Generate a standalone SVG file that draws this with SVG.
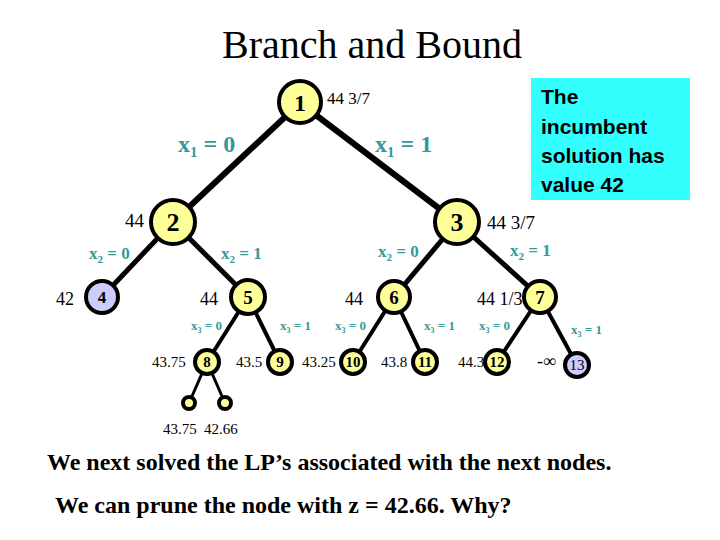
<svg xmlns="http://www.w3.org/2000/svg" width="720" height="540" viewBox="0 0 720 540">
<style>
.t{font-family:"Liberation Serif",serif;font-weight:bold;fill:#000}
.lb{font-family:"Liberation Serif",serif;font-weight:bold;fill:#339999}
.y{fill:#ffff99;stroke:#000;stroke-width:4}
.b{fill:#ccccff;stroke:#000;stroke-width:4}
.e{stroke:#000;fill:none}
</style>
<rect width="720" height="540" fill="#fff"/>
<text x="372" y="58" text-anchor="middle" font-family="Liberation Serif,serif" font-size="40">Branch and Bound</text>
<g id="connectors">
<line class="e" stroke-width="6" x1="300" y1="103" x2="173" y2="222"/>
<line class="e" stroke-width="6" x1="300" y1="103" x2="457" y2="222"/>
<line class="e" stroke-width="5" x1="173" y1="222" x2="102" y2="297"/>
<line class="e" stroke-width="5" x1="173" y1="222" x2="248" y2="297"/>
<line class="e" stroke-width="5" x1="457" y1="222" x2="394" y2="297"/>
<line class="e" stroke-width="5" x1="457" y1="222" x2="540" y2="297"/>
<line class="e" stroke-width="4" x1="248" y1="297" x2="207" y2="362"/>
<line class="e" stroke-width="4" x1="248" y1="297" x2="280" y2="362"/>
<line class="e" stroke-width="4" x1="394" y1="297" x2="353" y2="362"/>
<line class="e" stroke-width="4" x1="394" y1="297" x2="425" y2="362"/>
<line class="e" stroke-width="4" x1="540" y1="297" x2="497" y2="362"/>
<line class="e" stroke-width="4" x1="540" y1="297" x2="577" y2="365"/>
<line class="e" stroke-width="3" x1="207" y1="362" x2="189" y2="403"/>
<line class="e" stroke-width="3" x1="207" y1="362" x2="225" y2="403"/>
</g>
<g font-size="24" class="lb">
<text x="178" y="152" class="lb">x<tspan font-size="15" dy="5">1</tspan><tspan dy="-5"> = 0</tspan></text>
<text x="375" y="152" class="lb">x<tspan font-size="15" dy="5">1</tspan><tspan dy="-5"> = 1</tspan></text>
</g>
<g font-size="17" class="lb">
<text x="89" y="259" class="lb">x<tspan font-size="11" dy="4">2</tspan><tspan dy="-4"> = 0</tspan></text>
<text x="221" y="259" class="lb">x<tspan font-size="11" dy="4">2</tspan><tspan dy="-4"> = 1</tspan></text>
<text x="378" y="257" class="lb">x<tspan font-size="11" dy="4">2</tspan><tspan dy="-4"> = 0</tspan></text>
<text x="510" y="256" class="lb">x<tspan font-size="11" dy="4">2</tspan><tspan dy="-4"> = 1</tspan></text>
</g>
<g font-size="13" class="lb">
<text x="191" y="330" class="lb">x<tspan font-size="8" dy="3">3</tspan><tspan dy="-3"> = 0</tspan></text>
<text x="280" y="330" class="lb">x<tspan font-size="8" dy="3">3</tspan><tspan dy="-3"> = 1</tspan></text>
<text x="335" y="330" class="lb">x<tspan font-size="8" dy="3">3</tspan><tspan dy="-3"> = 0</tspan></text>
<text x="424" y="330" class="lb">x<tspan font-size="8" dy="3">3</tspan><tspan dy="-3"> = 1</tspan></text>
<text x="479" y="330" class="lb">x<tspan font-size="8" dy="3">3</tspan><tspan dy="-3"> = 0</tspan></text>
<text x="571" y="334" class="lb">x<tspan font-size="8" dy="3">3</tspan><tspan dy="-3"> = 1</tspan></text>
</g>
<g id="n1"><circle class="y" cx="300" cy="102" r="21"/><text class="t" x="300" y="111" font-size="24" text-anchor="middle">1</text></g>
<g id="n2"><circle class="y" cx="173" cy="222" r="22"/><text class="t" x="173" y="231" font-size="26" text-anchor="middle">2</text></g>
<g id="n3"><circle class="y" cx="457" cy="222" r="22"/><text class="t" x="457" y="231" font-size="26" text-anchor="middle">3</text></g>
<g id="n4"><circle class="b" cx="102" cy="297" r="16"/><text class="t" x="102" y="303" font-size="17" text-anchor="middle">4</text></g>
<g id="n5"><circle class="y" cx="248" cy="297" r="17"/><text class="t" x="248" y="304" font-size="19" text-anchor="middle">5</text></g>
<g id="n6"><circle class="y" cx="394" cy="297" r="16"/><text class="t" x="394" y="304" font-size="19" text-anchor="middle">6</text></g>
<g id="n7"><circle class="y" cx="540" cy="297" r="16"/><text class="t" x="540" y="304" font-size="19" text-anchor="middle">7</text></g>
<g id="n8"><circle class="y" cx="207" cy="362" r="12" stroke-width="3"/><text class="t" x="207" y="367" font-size="15" text-anchor="middle">8</text></g>
<g id="n9"><circle class="y" cx="280" cy="362" r="12" stroke-width="3"/><text class="t" x="280" y="367" font-size="15" text-anchor="middle">9</text></g>
<g id="n10"><circle class="y" cx="353" cy="362" r="12" stroke-width="3"/><text class="t" x="353" y="367" font-size="15" text-anchor="middle">10</text></g>
<g id="n11"><circle class="y" cx="425" cy="362" r="12" stroke-width="3"/><text class="t" x="425" y="367" font-size="15" text-anchor="middle">11</text></g>
<g id="n12"><circle class="y" cx="497" cy="362" r="12" stroke-width="3"/><text class="t" x="497" y="367" font-size="15" text-anchor="middle">12</text></g>
<g id="n13"><circle class="b" cx="577" cy="365" r="12" stroke-width="3"/><text font-family="Liberation Serif,serif" x="577" y="370" font-size="15" text-anchor="middle">13</text></g>
<g id="leafA"><circle class="y" cx="189" cy="403" r="6" stroke-width="2.5"/></g>
<g id="leafB"><circle class="y" cx="225" cy="403" r="6" stroke-width="2.5"/></g>
<g font-family="Liberation Serif,serif" fill="#000">
<text x="327" y="104" font-size="17">44 3/7</text>
<text x="125" y="227" font-size="19">44</text>
<text x="487" y="229" font-size="19">44 3/7</text>
<text x="56" y="305" font-size="18">42</text>
<text x="200" y="305" font-size="18">44</text>
<text x="345" y="305" font-size="18">44</text>
<text x="477" y="305" font-size="18">44 1/3</text>
<text x="152" y="367" font-size="15">43.75</text>
<text x="236" y="367" font-size="15">43.5</text>
<text x="302" y="367" font-size="15">43.25</text>
<text x="381" y="367" font-size="15">43.8</text>
<text x="458" y="367" font-size="15">44.3</text>
<text x="537" y="367" font-size="18">-∞</text>
<text x="163" y="434" font-size="15">43.75</text>
<text x="204" y="434" font-size="15">42.66</text>
</g>
<g id="note">
<rect x="531" y="78" width="159" height="122" fill="#33ffff"/>
<g font-family="Liberation Sans,sans-serif" font-weight="bold" font-size="21" fill="#000">
<text x="541" y="104">The</text><text x="541" y="134">incumbent</text><text x="541" y="163">solution has</text><text x="541" y="192">value 42</text>
</g>
</g>
<text x="47" y="470" class="t" font-size="24">We next solved the LP’s associated with the next nodes.</text>
<text x="55" y="513" class="t" font-size="24">We can prune the node with z = 42.66.  Why?</text>
</svg>
